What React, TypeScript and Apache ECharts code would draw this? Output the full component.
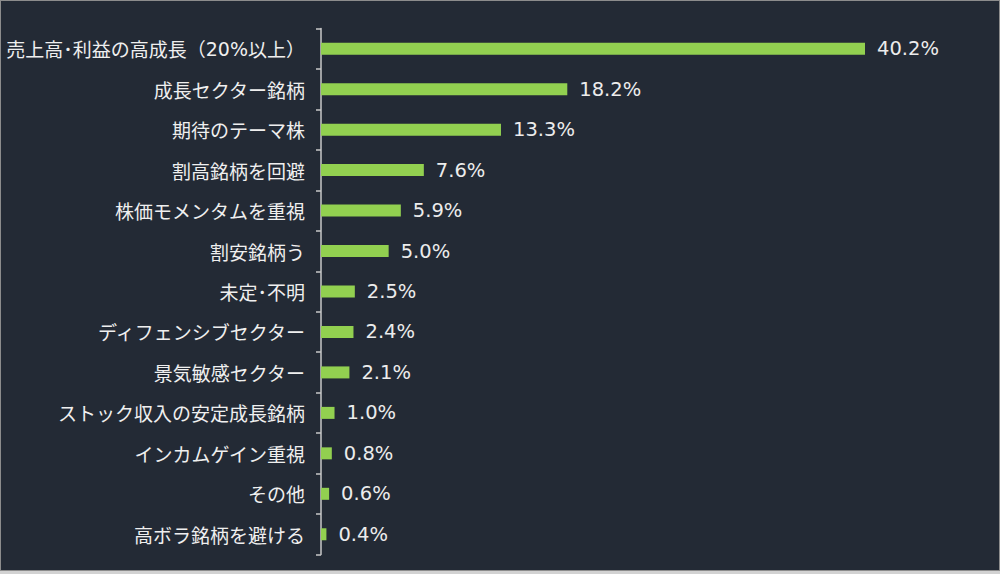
import React, { useEffect, useRef } from "react";
import * as echarts from "echarts";

const categories = [
  "売上高･利益の高成長（20%以上）",
  "成長セクター銘柄",
  "期待のテーマ株",
  "割高銘柄を回避",
  "株価モメンタムを重視",
  "割安銘柄う",
  "未定･不明",
  "ディフェンシブセクター",
  "景気敏感セクター",
  "ストック収入の安定成長銘柄",
  "インカムゲイン重視",
  "その他",
  "高ボラ銘柄を避ける",
];
const values = [40.2, 18.2, 13.3, 7.6, 5.9, 5.0, 2.5, 2.4, 2.1, 1.0, 0.8, 0.6, 0.4];
const xMax = 44;

export default function App() {
  const ref = useRef<HTMLDivElement>(null);
  useEffect(() => {
    document.body.style.margin = "0";
    const chart = echarts.init(ref.current!, null, { renderer: "svg" });
    const font = '"Noto Sans CJK JP", "Noto Sans", sans-serif';
    const latin = '"DejaVu Sans", sans-serif';
    chart.setOption({
      animation: false,
      backgroundColor: "#232a35",
      textStyle: { fontFamily: font },
      grid: { left: 320, top: 27.5, height: 526, width: (xMax * 544) / 40.2 },
      xAxis: { type: "value", min: 0, max: xMax, show: false },
      yAxis: {
        type: "category",
        data: categories,
        inverse: true,
        boundaryGap: true,
        axisLine: { show: true, lineStyle: { color: "#c8c8c8", width: 1.5 } },
        axisTick: { show: true, length: 5, lineStyle: { color: "#c8c8c8", width: 1.5 } },
        axisLabel: {
          color: "#efefef",
          fontSize: 19,
          margin: 16,
          fontFamily: font,
          formatter: (v: string) => v.replace(/([0-9%]+)/g, "{a|$1}"),
          rich: { a: { fontFamily: latin, fontSize: 19, color: "#efefef" } },
        },
        splitLine: { show: false },
      },
      series: [
        {
          type: "bar",
          data: values,
          barWidth: 12,
          itemStyle: { color: "#92d050" },
          label: {
            show: true,
            position: "right",
            distance: 12,
            color: "#ececec",
            fontSize: 19.5,
            fontFamily: latin,
            formatter: (p: any) => Number(p.value).toFixed(1) + "%",
          },
        },
      ],
    });
    return () => chart.dispose();
  }, []);
  return (
    <div style={{ width: 1000, height: 574, background: "#d2d2d2", position: "relative" }}>
      <div style={{ position: "absolute", left: 0, top: 0, width: 1000, height: 571, background: "#8c8c8c" }} />
      <div ref={ref} style={{ position: "absolute", left: 1, top: 1, width: 998, height: 569 }} />
    </div>
  );
}
